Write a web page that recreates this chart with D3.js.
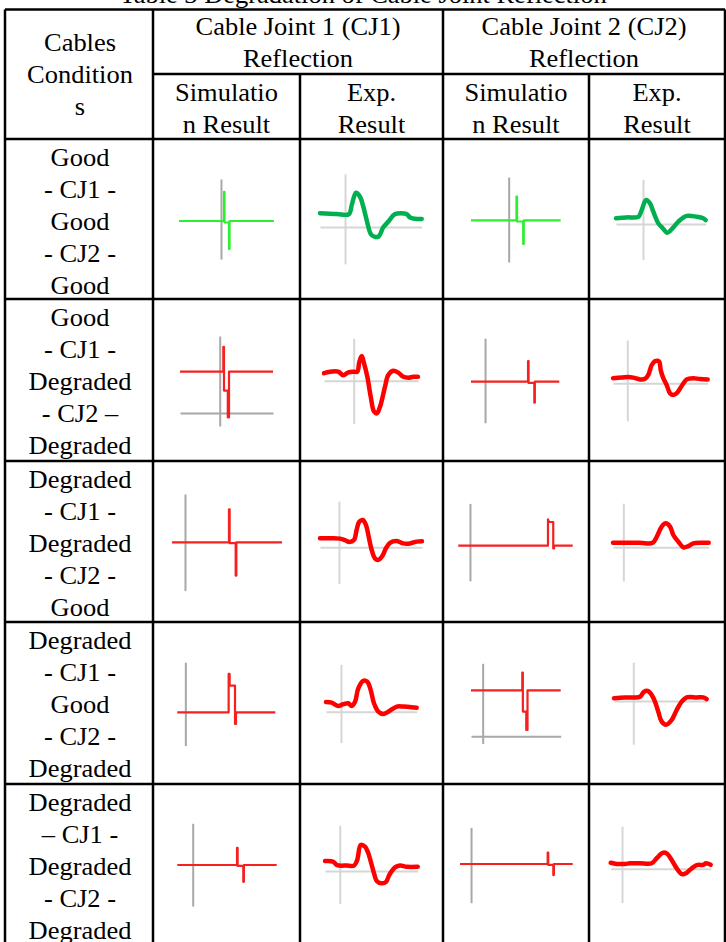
<!DOCTYPE html>
<html>
<head>
<meta charset="utf-8">
<script src="https://cdn.jsdelivr.net/npm/d3@7"></script>
<style>
  html, body { margin: 0; padding: 0; background: #fff; }
  svg { display: block; }
  text { font-family: "Liberation Serif", "Times New Roman", serif; fill: #000; }
</style>
</head>
<body>
<div id="chart"></div>
<script>
// table text
const titleText = 'Table 3 Degradation of Cable Joint Reflection';
const jointHeaders = ['Cable Joint 1 (CJ1)|Reflection', 'Cable Joint 2 (CJ2)|Reflection'];
const subHeaders = ['Simulatio|n Result', 'Exp.|Result', 'Simulatio|n Result', 'Exp.|Result'];
const conditionHeader = ['Cables', 'Condition', 's'];
const conditions = [
  ['Good', '- CJ1 -', 'Good', '- CJ2 -', 'Good'],
  ['Good', '- CJ1 -', 'Degraded', '- CJ2 \u2013', 'Degraded'],
  ['Degraded', '- CJ1 -', 'Degraded', '- CJ2 -', 'Good'],
  ['Degraded', '- CJ1 -', 'Good', '- CJ2 -', 'Degraded'],
  ['Degraded', '\u2013 CJ1 -', 'Degraded', '- CJ2 -', 'Degraded']
];

// simulated reflections, [time 0-100, amplitude]
const simCJ1 = [
  [[0,0],[47.4,0],[47.4,0.97],[47.9,0.97],[47.9,-0.05],[52.6,-0.05],[52.6,-0.93],[53.2,-0.93],[53.2,0],[100,0]],
  [[0,0],[46.6,0],[46.6,0.83],[47.3,0.83],[47.3,-0.63],[51.4,-0.63],[51.4,-1.52],[52.7,-1.52],[52.7,0],[100,0]],
  [[0,0],[51.8,0],[51.8,1.10],[52.4,1.10],[52.4,-0.03],[57.9,-0.03],[57.9,-1.11],[58.5,-1.11],[58.5,0],[100,0]],
  [[0,0],[52.4,0],[52.4,1.28],[53.4,1.28],[53.4,0.89],[58.9,0.89],[58.9,-0.39],[59.9,-0.39],[59.9,0],[100,0]],
  [[0,0],[60.1,0],[60.1,0.57],[60.7,0.57],[60.7,-0.03],[66.4,-0.03],[66.4,-0.56],[67.0,-0.56],[67.0,0],[100,0]]
];
const simCJ2 = [
  [[0,0],[50.7,0],[50.7,0.79],[51.3,0.79],[51.3,-0.04],[58.2,-0.04],[58.2,-0.79],[58.8,-0.79],[58.8,0],[100,0]],
  [[0,0],[64.6,0],[64.6,0.69],[65.2,0.69],[65.2,-0.04],[71.7,-0.04],[71.7,-0.70],[72.3,-0.70],[72.3,0],[100,0]],
  [[0,0],[78.4,0],[78.4,0.88],[79.3,0.79],[83.0,0.79],[83.0,-0.09],[83.7,-0.09],[83.7,0],[100,0]],
  [[0,0],[57.2,0],[57.2,0.59],[57.8,0.59],[57.8,-0.71],[61.6,-0.71],[61.6,-1.32],[63.0,-1.32],[63.0,0],[100,0]],
  [[0,0],[77.8,0],[77.8,0.38],[78.3,0.38],[78.3,-0.03],[82.8,-0.03],[82.8,-0.37],[83.3,-0.37],[83.3,0],[100,0]]
];

// measured reflections, [time 0-100, amplitude]
const expCJ1 = [
  [[0,0.46],[16.4,0.43],[28.5,0.43],[31.2,0.73],[35.4,1.14],[39.3,1.01],[42.6,0.68],[45.9,0.23],[50.8,-0.27],[57.3,-0.32],[62.2,-0.01],[67.2,0.18],[73.7,0.43],[85.2,0.43],[88.5,0.32],[95.1,0.27],[100,0.27]],
  [[0,0.25],[6.4,0.30],[15.2,0.30],[20.5,0.18],[25.9,0.28],[31.9,0.30],[35.4,0.30],[37.6,0.63],[40.1,0.82],[42.6,0.58],[46.1,0.13],[49.7,-0.53],[53.2,-1.03],[56.1,-1.09],[59.6,-0.87],[64.9,-0.20],[68.4,0.19],[73.7,0.33],[79.0,0.27],[84.4,0.13],[89.7,0.10],[95.0,0.13],[100,0.13]],
  [[0,0.30],[9.8,0.30],[19.6,0.29],[24.5,0.24],[28.7,0.18],[33.3,0.24],[35.9,0.58],[38.5,0.85],[41.9,0.91],[45.1,0.74],[47.4,0.41],[50.7,-0.09],[53.9,-0.37],[57.2,-0.42],[61.1,-0.29],[64.7,-0.03],[68.6,0.15],[75.2,0.21],[81.7,0.13],[88.2,0.13],[94.8,0.19],[100,0.20]],
  [[0,0.32],[6.3,0.30],[13.6,0.19],[19.1,0.25],[24.6,0.28],[28.3,0.19],[32.0,0.33],[35.6,0.78],[41.1,1.03],[45.5,1.00],[49.3,0.72],[52.9,0.28],[57.7,0.00],[63.2,-0.08],[68.7,0.00],[78.0,0.17],[85.2,0.17],[94.5,0.15],[100,0.13]],
  [[0,0.33],[9.0,0.31],[12.6,0.20],[23.4,0.18],[31.3,0.18],[34.8,0.37],[38.5,0.87],[43.2,0.81],[46.7,0.59],[50.4,0.20],[52.9,-0.08],[55.8,-0.33],[61.2,-0.41],[65.9,-0.36],[69.4,-0.13],[75.5,0.12],[80.9,0.18],[88.1,0.14],[100,0.14]]
];
const expCJ2 = [
  [[0,0.19],[11.9,0.22],[24.9,0.24],[28.7,0.47],[33.4,0.80],[37.9,0.69],[41.6,0.41],[47.2,0.02],[52.1,-0.14],[57.2,-0.29],[63.9,-0.11],[69.5,0.08],[78.8,0.27],[90.0,0.24],[97.3,0.19],[100,0.13]],
  [[0,0.17],[9.2,0.19],[16.2,0.21],[21.4,0.19],[28.5,0.13],[33.8,0.15],[37.3,0.28],[40.9,0.61],[44.4,0.74],[48.6,0.73],[50.4,0.44],[53.1,0.17],[56.7,-0.06],[60.2,-0.33],[63.7,-0.39],[67.9,-0.31],[72.5,-0.09],[77.8,0.13],[84.8,0.17],[91.9,0.14],[100,0.13]],
  [[0,0.15],[9.1,0.15],[28.2,0.15],[41.5,0.15],[45.7,0.35],[50.9,0.69],[55.1,0.80],[59.6,0.69],[63.0,0.41],[68.2,0.19],[73.5,0.00],[78.7,0.04],[83.9,0.13],[92.7,0.15],[100,0.15]],
  [[0,0.09],[6.5,0.11],[11.9,0.12],[20.8,0.12],[28.0,0.14],[32.4,0.31],[37.0,0.33],[40.7,0.20],[44.2,-0.02],[47.8,-0.36],[51.5,-0.69],[56.1,-0.79],[62.3,-0.63],[67.6,-0.30],[73.0,-0.02],[78.4,0.12],[89.2,0.12],[96.3,0.12],[100,0.06]],
  [[0,0.20],[6.0,0.16],[14.3,0.16],[19.3,0.18],[29.3,0.18],[41.0,0.18],[46.0,0.35],[52.0,0.53],[56.0,0.51],[61.0,0.29],[66.0,0.01],[71.0,-0.18],[75.3,-0.15],[80.0,-0.02],[86.0,0.12],[92.6,0.13],[95.3,0.18],[100,0.13]]
];

// axis positions in each small plot: vertical axis at time axisX, from axisY[0] to axisY[1];
// hLine = amplitude of the grey horizontal line (null when there is none)
const simCJ1Axes = [
  { axisX: 44.2, axisY: [1.40, -1.27], hLine: null },
  { axisX: 42.7, axisY: [1.19, -1.81], hLine: -1.38 },
  { axisX: 11.8, axisY: [1.61, -1.61], hLine: null },
  { axisX: 8.2, axisY: [1.67, -1.11], hLine: null },
  { axisX: 15.5, axisY: [1.39, -1.37], hLine: null }
];
const simCJ2Axes = [
  { axisX: 42.0, axisY: [1.44, -1.39], hLine: null },
  { axisX: 15.9, axisY: [1.45, -1.37], hLine: null },
  { axisX: 10.2, axisY: [1.41, -1.17], hLine: null },
  { axisX: 13.0, axisY: [0.90, -1.77], hLine: -1.53 },
  { axisX: 9.8, axisY: [1.22, -1.29], hLine: null }
];
const expCJ1Axes = [
  { axisX: 24.6, axisY: [1.77, -1.23], hLine: 0 },
  { axisX: 31.6, axisY: [1.41, -1.43], hLine: 0 },
  { axisX: 18.6, axisY: [1.54, -1.21], hLine: 0 },
  { axisX: 16.5, axisY: [1.58, -1.03], hLine: 0 },
  { axisX: 15.9, axisY: [1.53, -1.08], hLine: 0 }
];
const expCJ2Axes = [
  { axisX: 30.1, axisY: [1.49, -1.18], hLine: 0 },
  { axisX: 15.1, axisY: [1.44, -1.25], hLine: 0 },
  { axisX: 10.8, axisY: [1.47, -1.12], hLine: 0 },
  { axisX: 20.8, axisY: [1.29, -1.44], hLine: 0 },
  { axisX: 11.3, axisY: [1.42, -1.13], hLine: 0 }
];

// pixel frame of each small plot: [left, right, zero line]
const frames = [
  [[179, 274, 221], [320, 421.7, 227], [471, 560.7, 220.3], [616, 705.7, 224]],
  [[180, 273, 371.7], [324, 418, 380.7], [471, 559.3, 381.7], [613, 707.7, 383.3]],
  [[172, 282, 542.3], [320, 422, 547.3], [458.3, 572.7, 545.7], [613, 708.7, 547.3]],
  [[177.3, 275.3, 712.3], [326, 416.7, 711.7], [471, 560.7, 690.3], [614, 706.7, 701]],
  [[177.3, 276.7, 865], [325, 417.7, 871], [460, 572.7, 864], [610.7, 710.7, 868.7]]
];

const width = 726, height = 942;
const colX = [5, 153, 300, 443, 589, 725];
const rowY = [9.5, 74, 139, 299, 461, 622, 784, 960];
const fontSize = 24.5, stretch = 1.08, lineGap = 32.2;

const svg = d3.select('#chart').append('svg')
  .attr('width', width)
  .attr('height', height);

function addText(lines, cx, firstBase) {
  lines.forEach((t, i) => {
    svg.append('text')
      .attr('transform', `translate(${cx},${firstBase + i * lineGap}) scale(${stretch},1)`)
      .attr('text-anchor', 'middle')
      .style('font-size', fontSize + 'px')
      .text(t);
  });
}

// title, mostly cut off by the top edge
addText([titleText], 363, 2.5);

// grid lines
const grid = svg.append('g').attr('stroke', '#000').attr('stroke-width', 2.5);
grid.append('line').attr('x1', colX[0]).attr('x2', colX[5]).attr('y1', rowY[0]).attr('y2', rowY[0]);
grid.append('line').attr('x1', colX[1]).attr('x2', colX[5]).attr('y1', rowY[1]).attr('y2', rowY[1]);
rowY.slice(2, 7).forEach(y => {
  grid.append('line').attr('x1', colX[0]).attr('x2', colX[5]).attr('y1', y).attr('y2', y);
});
[0, 1, 3, 5].forEach(c => {
  grid.append('line').attr('x1', colX[c]).attr('x2', colX[c]).attr('y1', rowY[0]).attr('y2', height + 5);
});
[2, 4].forEach(c => {
  grid.append('line').attr('x1', colX[c]).attr('x2', colX[c]).attr('y1', rowY[1]).attr('y2', height + 5);
});

// header
addText(conditionHeader, (colX[0] + colX[1]) / 2 + 1, 51);
jointHeaders.forEach((h, i) => {
  addText(h.split('|'), (colX[1 + 2 * i] + colX[3 + 2 * i]) / 2, 35);
});
subHeaders.forEach((h, i) => {
  addText(h.split('|'), (colX[1 + i] + colX[2 + i]) / 2, 101);
});

// row labels
conditions.forEach((lines, r) => {
  addText(lines, (colX[0] + colX[1]) / 2 + 1, rowY[2 + r] + 26.5);
});

// small plots
const columns = [
  { data: simCJ1, axes: simCJ1Axes, sim: true },
  { data: expCJ1, axes: expCJ1Axes, sim: false },
  { data: simCJ2, axes: simCJ2Axes, sim: true },
  { data: expCJ2, axes: expCJ2Axes, sim: false }
];

conditions.forEach((_, r) => {
  columns.forEach((col, c) => {
    const [left, right, zero] = frames[r][c];
    const x = d3.scaleLinear().domain([0, 100]).range([left, right]);
    const y = d3.scaleLinear().domain([-1, 1]).range([zero + 30, zero - 30]);
    const ax = col.axes[r];
    const g = svg.append('g');
    const axisColor = col.sim ? '#a8a8a8' : '#d6d6d6';

    // vertical axis through a clipped scale
    const yAxisScale = y.copy().domain([ax.axisY[1], ax.axisY[0]])
      .range([y(ax.axisY[1]), y(ax.axisY[0])]);
    g.append('g')
      .attr('transform', `translate(${x(ax.axisX)},0)`)
      .call(d3.axisLeft(yAxisScale).ticks(0).tickSize(0))
      .call(s => s.select('.domain').attr('stroke', axisColor).attr('stroke-width', 2));

    if (ax.hLine !== null) {
      g.append('g')
        .attr('transform', `translate(0,${y(ax.hLine)})`)
        .call(d3.axisBottom(x).ticks(0).tickSize(0))
        .call(s => s.select('.domain').attr('stroke', axisColor).attr('stroke-width', 2));
    }

    const color = r === 0 ? (col.sim ? '#2cf02c' : '#00b050') : (col.sim ? '#f52020' : '#ff0000');
    const line = d3.line()
      .x(d => x(d[0]))
      .y(d => y(d[1]))
      .curve(col.sim ? d3.curveLinear : d3.curveCatmullRom.alpha(0.5));

    g.append('path')
      .datum(col.data[r])
      .attr('d', line)
      .attr('fill', 'none')
      .attr('stroke', color)
      .attr('stroke-width', col.sim ? 2.2 : 4.5)
      .attr('stroke-linejoin', 'round')
      .attr('stroke-linecap', col.sim ? 'butt' : 'round');
  });
});
</script>
</body>
</html>
